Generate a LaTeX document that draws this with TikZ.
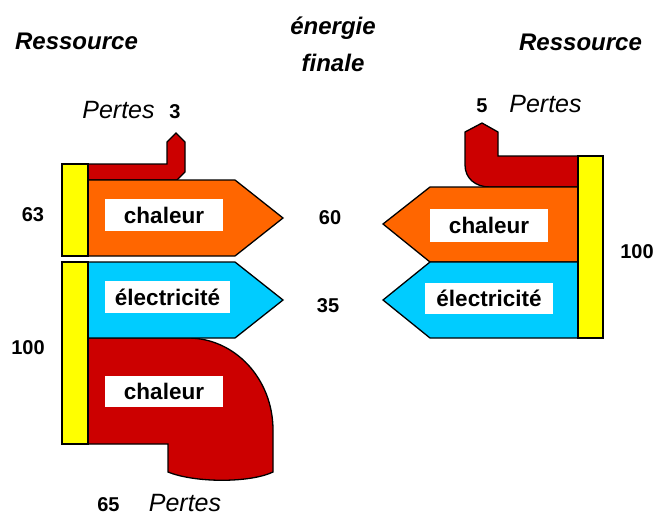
\documentclass[tikz,border=0pt]{standalone}
\usepackage{fontspec}
\setmainfont{Liberation Sans}
\definecolor{cred}{HTML}{CC0000}
\definecolor{corange}{HTML}{FF6600}
\definecolor{cblue}{HTML}{00CCFF}
\definecolor{cyellow}{HTML}{FFFF00}
\begin{document}
\begin{tikzpicture}[x=1pt,y=-1pt,
  outl/.style={draw=black,line width=1.3pt,line join=miter},
  yelbar/.style={outl,fill=cyellow},
  lossflow/.style={outl,fill=cred},
  heatflow/.style={outl,fill=corange},
  elecflow/.style={outl,fill=cblue},
  lbl/.style={fill=white,inner sep=0pt,font=\fontsize{22.5}{24}\selectfont\bfseries},
  head/.style={anchor=base,inner sep=1pt,font=\fontsize{24}{26}\selectfont\bfseries\itshape},
  pertes/.style={anchor=base,inner sep=1pt,font=\fontsize{25}{26}\selectfont\itshape},
  num/.style={font=\fontsize{20}{22}\selectfont\bfseries},
  numb/.style={anchor=base,inner sep=1pt,font=\fontsize{20}{22}\selectfont\bfseries},
]
\path[use as bounding box,fill=white] (0,0) rectangle (655,515);

% ---------- headings ----------
\node[head] (resL) at (76.5,49) {Ressource};
\node[head] (resR) at (580.5,50) {Ressource};
\node[head] (ener) at (333,34) {énergie};
\node[head] (fin) at (333,71) {finale};

% ---------- left, top group ----------
\draw[lossflow] (88,164) -- (167,164) -- (167,142) -- (176,133) -- (185,142)
  -- (185,172) -- (177,180) -- (88,180) -- cycle;
\draw[heatflow] (88,180) -- (235,180) -- (283,218) -- (235,256) -- (88,256) -- cycle;
\draw[yelbar] (62,164) rectangle (88,256);
\node[lbl,minimum width=118pt,minimum height=32pt] (chL) at (164,215) {chaleur};
\node[pertes] (pertL) at (118.5,118) {Pertes};
\node[numb] (n3) at (175,118) {3};
\node[num] (n63) at (33,215) {63};
\node[num] (n60) at (330,218) {60};

% ---------- left, bottom group ----------
\draw[lossflow] (88,338) -- (188,338) .. controls (235,338) and (273,379) .. (273,430)
  -- (273,472) .. controls (250,483) and (195,483) .. (168,472) -- (168,444)
  -- (88,444) -- cycle;
\draw[elecflow] (88,262) -- (235,262) -- (283,300) -- (235,338) -- (88,338) -- cycle;
\draw[yelbar] (62,262) rectangle (88,444);
\node[lbl,minimum width=125pt,minimum height=32pt] (elL) at (167.5,297) {électricité};
\node[lbl,minimum width=118pt,minimum height=31pt] (chB) at (164,391.5) {chaleur};
\node[num] (n35) at (328,306) {35};
\node[num] (n100L) at (28,348) {100};
\node[numb] (n65) at (108.5,511) {65};
\node[pertes] (pertB) at (185,511) {Pertes};

% ---------- right group ----------
\draw[lossflow] (578,156) -- (498,156) -- (498,132) -- (482,123) -- (465,132)
  -- (465,165) .. controls (465,178) and (475,187) .. (490,187) -- (578,187) -- cycle;
\draw[heatflow] (578,187) -- (430,187) -- (383,224) -- (430,262) -- (578,262) -- cycle;
\draw[elecflow] (578,262) -- (430,262) -- (383,300) -- (430,338) -- (578,338) -- cycle;
\draw[yelbar] (578,156) rectangle (603,338);
\node[lbl,minimum width=118pt,minimum height=33pt] (chR) at (489,225.5) {chaleur};
\node[lbl,minimum width=128pt,minimum height=31pt] (elR) at (489,298.5) {électricité};
\node[numb] (n5) at (482,112) {5};
\node[pertes] (pertR) at (545.5,112) {Pertes};
\node[num] (n100R) at (637,252) {100};
\end{tikzpicture}
\end{document}
